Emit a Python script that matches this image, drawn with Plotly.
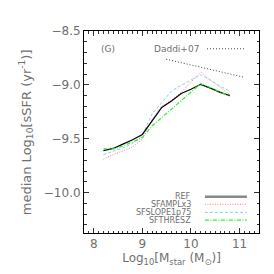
import plotly.graph_objects as go

mass = [8.2, 8.4, 8.6, 8.8, 9.0, 9.2, 9.4, 9.6, 9.8, 10.0, 10.2, 10.4, 10.6, 10.8]
ref = [-9.61, -9.59, -9.55, -9.51, -9.46, -9.33, -9.21, -9.15, -9.08, -9.04, -8.995, -9.03, -9.07, -9.10]
sfampl = [-9.69, -9.646, -9.614, -9.577, -9.503, -9.32, -9.197, -9.142, -9.07, -8.97, -8.88, -8.955, -9.02, -9.09]
sfslope = [-9.648, -9.618, -9.586, -9.544, -9.47, -9.27, -9.16, -9.058, -9.003, -8.952, -8.907, -8.956, -9.012, -9.058]
sfthres = [-9.593, -9.595, -9.568, -9.53, -9.489, -9.382, -9.304, -9.225, -9.151, -9.07, -8.99, -9.025, -9.065, -9.105]
daddi_x = [9.49, 11.09]
daddi_y = [-8.762, -8.929]

series = [
    ("REF", ref, dict(color="black", width=1.2, dash="solid"), "#888888", 2.5),
    ("SFAMPLx3", sfampl, dict(color="#ff7f7f", width=1, dash="1px,1.5px"), "#ff7f7f", 1),
    ("SFSLOPE1p75", sfslope, dict(color="#87cefa", width=1, dash="3px,2px"), "#87cefa", 1),
    ("SFTHRESZ", sfthres, dict(color="#33ee33", width=1.2, dash="4px,1.5px,1px,1.5px"), "#33ee33", 1.2),
]

fig = go.Figure()
fig.add_trace(go.Scatter(x=daddi_x, y=daddi_y, mode="lines",
                         line=dict(color="#444444", width=1, dash="1px,2px"), showlegend=False))
order = [1, 2, 0, 3]
for i in order:
    name, ys, ln, _, _ = series[i]
    fig.add_trace(go.Scatter(x=mass, y=ys, mode="lines", line=ln, name=name, showlegend=False))

gray = "#707070"
font = dict(family="DejaVu Sans", size=12, color=gray)

rows_y = [0.180, 0.142, 0.102, 0.064]
for (name, ys, ln, lcol, lw), yy in zip(series, rows_y):
    fig.add_annotation(x=0.623, y=yy, xref="paper", yref="paper", text=name,
                       showarrow=False, xanchor="right", yanchor="middle",
                       font=dict(family="DejaVu Sans", size=8, color=gray))
    fig.add_shape(type="line", xref="paper", yref="paper", x0=0.691, x1=0.931,
                  y0=yy, y1=yy, line=dict(color=lcol, width=lw, dash=ln["dash"]))

fig.add_annotation(x=0.669, y=0.912, xref="paper", yref="paper", text="Daddi+07",
                   showarrow=False, xanchor="right", yanchor="middle",
                   font=dict(family="DejaVu Sans", size=9, color=gray))
fig.add_shape(type="line", xref="paper", yref="paper", x0=0.703, x1=0.914,
              y0=0.912, y1=0.912, line=dict(color="#444444", width=1, dash="1px,2px"))
fig.add_annotation(x=0.088, y=0.912, xref="paper", yref="paper", text="(G)",
                   showarrow=False, xanchor="left", yanchor="middle",
                   font=dict(family="DejaVu Sans", size=9, color=gray))
fig.add_annotation(x=-0.33, y=0.5, xref="paper", yref="paper",
                   text="median Log<sub>10</sub>[sSFR (yr<sup>-1</sup>)]",
                   textangle=-90, showarrow=False, xanchor="center", yanchor="middle",
                   font=dict(family="DejaVu Sans", size=13, color=gray))

axis_common = dict(showline=True, linecolor="black", linewidth=1, mirror="ticks",
                   ticks="inside", ticklen=5, tickcolor="#333333", tickwidth=1,
                   showgrid=False, zeroline=False, tickfont=font)

fig.update_xaxes(range=[7.8, 11.4], tick0=8, dtick=1,
                 minor=dict(dtick=0.1, ticks="inside", ticklen=2.5, tickcolor="#333333", showgrid=False),
                 title=dict(text="Log<sub>10</sub>[M<sub>star</sub> (M<sub>⊙</sub>)]", font=font, standoff=3),
                 **axis_common)
fig.update_yaxes(range=[-10.375, -8.5], tick0=-10.0, dtick=0.5, tickformat=".1f",
                 minor=dict(dtick=0.1, ticks="inside", ticklen=2.5, tickcolor="#333333", showgrid=False),
                 **axis_common)

fig.update_layout(width=274, height=274, margin=dict(l=76, r=23, t=23, b=49),
                  plot_bgcolor="white", paper_bgcolor="white", showlegend=False)

fig.write_html("out.html")
